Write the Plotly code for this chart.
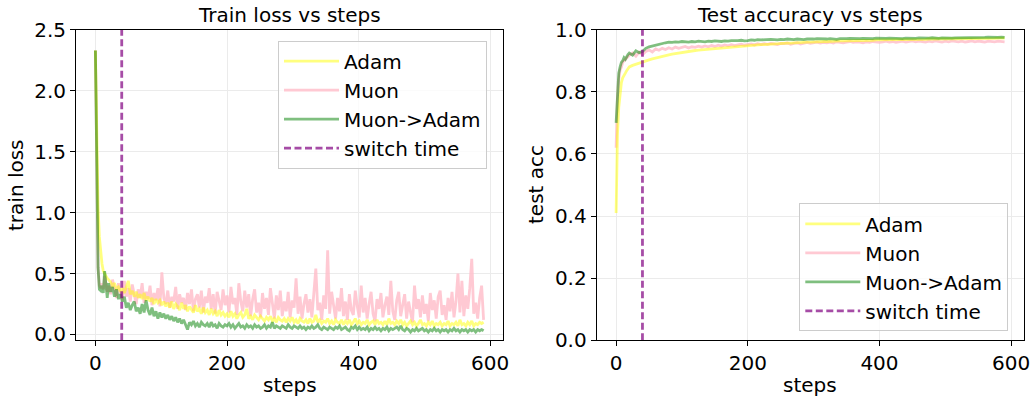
import plotly.graph_objects as go

# ---------------- data ----------------
early_steps = [0, 2, 4, 6, 8, 10, 12, 14, 16, 18]
steps_loss = early_steps + list(range(20, 591, 3))
steps_acc = early_steps + list(range(20, 595, 5))
switch_step = 40

loss_adam = [2.33, 1.50, 1.05, 0.80, 0.66, 0.58, 0.52, 0.50, 0.47, 0.46,
    0.45, 0.43, 0.40, 0.42, 0.37, 0.39, 0.35, 0.38, 0.34, 0.40,
    0.44, 0.33, 0.36, 0.31, 0.35, 0.30, 0.33, 0.29, 0.34, 0.28,
    0.31, 0.27, 0.30, 0.25, 0.29, 0.26, 0.28, 0.24, 0.27, 0.23,
    0.26, 0.22, 0.27, 0.21, 0.25, 0.23, 0.20, 0.26, 0.21, 0.24,
    0.19, 0.23, 0.20, 0.18, 0.24, 0.19, 0.21, 0.17, 0.22, 0.18,
    0.20, 0.16, 0.21, 0.17, 0.19, 0.15, 0.20, 0.16, 0.18, 0.15,
    0.17, 0.14, 0.19, 0.15, 0.17, 0.13, 0.16, 0.18, 0.14, 0.16,
    0.21, 0.13, 0.15, 0.12, 0.16, 0.14, 0.12, 0.15, 0.13, 0.11,
    0.14, 0.12, 0.15, 0.11, 0.13, 0.10, 0.14, 0.12, 0.11, 0.13,
    0.10, 0.13, 0.11, 0.14, 0.10, 0.12, 0.09, 0.13, 0.11, 0.10,
    0.12, 0.09, 0.13, 0.10, 0.11, 0.16, 0.10, 0.12, 0.09, 0.11,
    0.10, 0.13, 0.09, 0.11, 0.08, 0.12, 0.10, 0.09, 0.12, 0.08,
    0.11, 0.09, 0.12, 0.08, 0.10, 0.13, 0.09, 0.11, 0.08, 0.10,
    0.09, 0.12, 0.08, 0.10, 0.11, 0.08, 0.12, 0.09, 0.10, 0.08,
    0.11, 0.08, 0.13, 0.09, 0.10, 0.08, 0.11, 0.09, 0.12, 0.08,
    0.10, 0.07, 0.09, 0.11, 0.08, 0.10, 0.07, 0.09, 0.12, 0.08,
    0.09, 0.07, 0.10, 0.08, 0.11, 0.07, 0.09, 0.08, 0.10, 0.07,
    0.09, 0.08, 0.11, 0.07, 0.09, 0.08, 0.10, 0.07, 0.12, 0.08,
    0.09, 0.07, 0.10, 0.08, 0.11, 0.07, 0.09, 0.08, 0.10, 0.09,
    0.10]

loss_muon = [2.33, 1.25, 0.55, 0.40, 0.38, 0.42, 0.37, 0.48, 0.40, 0.35,
    0.40, 0.33, 0.45, 0.36, 0.30, 0.42, 0.35, 0.28, 0.44, 0.31,
    0.38, 0.27, 0.41, 0.33, 0.25, 0.37, 0.30, 0.42, 0.26, 0.35,
    0.29, 0.40, 0.24, 0.34, 0.28, 0.38, 0.23, 0.51, 0.30, 0.25,
    0.36, 0.22, 0.31, 0.27, 0.39, 0.21, 0.33, 0.26, 0.30, 0.20,
    0.34, 0.25, 0.37, 0.19, 0.29, 0.33, 0.22, 0.36, 0.18, 0.31,
    0.26, 0.38, 0.21, 0.33, 0.17, 0.35, 0.28, 0.20, 0.37, 0.24,
    0.32, 0.18, 0.39, 0.25, 0.30, 0.16, 0.42, 0.27, 0.19, 0.36,
    0.22, 0.33, 0.15, 0.29, 0.37, 0.18, 0.26, 0.14, 0.34, 0.21,
    0.30, 0.16, 0.38, 0.23, 0.13, 0.32, 0.20, 0.36, 0.15, 0.27,
    0.19, 0.35, 0.14, 0.28, 0.22, 0.46, 0.17, 0.31, 0.13, 0.25,
    0.33, 0.18, 0.29, 0.14, 0.37, 0.54, 0.20, 0.26, 0.12, 0.32,
    0.21, 0.69, 0.17, 0.35, 0.24, 0.13, 0.30, 0.19, 0.38, 0.15,
    0.27, 0.12, 0.33, 0.20, 0.16, 0.36, 0.23, 0.14, 0.40, 0.18,
    0.30, 0.13, 0.25, 0.35, 0.17, 0.11, 0.29, 0.21, 0.34, 0.14,
    0.24, 0.31, 0.16, 0.44, 0.19, 0.12, 0.28, 0.35, 0.15, 0.23,
    0.33, 0.13, 0.27, 0.18, 0.10, 0.40, 0.21, 0.29, 0.14, 0.32,
    0.17, 0.25, 0.11, 0.34, 0.20, 0.28, 0.13, 0.31, 0.36, 0.16,
    0.24, 0.12, 0.30, 0.19, 0.35, 0.14, 0.27, 0.50, 0.18, 0.44,
    0.15, 0.32, 0.21, 0.38, 0.62, 0.17, 0.26, 0.13, 0.30, 0.40,
    0.12]

loss_switch = [2.33, 1.20, 0.55, 0.37, 0.36, 0.40, 0.34, 0.52, 0.38, 0.30,
    0.42, 0.35, 0.39, 0.31, 0.37, 0.29, 0.33, 0.27, 0.31, 0.22,
    0.26, 0.20, 0.24, 0.27, 0.19, 0.22, 0.17, 0.25, 0.18, 0.28,
    0.20, 0.16, 0.22, 0.15, 0.19, 0.13, 0.18, 0.14, 0.17, 0.13,
    0.16, 0.12, 0.15, 0.11, 0.14, 0.10, 0.13, 0.09, 0.12, 0.08,
    0.04, 0.10, 0.08, 0.11, 0.07, 0.09, 0.06, 0.10, 0.08, 0.07,
    0.09, 0.06, 0.10, 0.07, 0.08, 0.05, 0.09, 0.07, 0.06, 0.08,
    0.07, 0.09, 0.06, 0.08, 0.05, 0.07, 0.09, 0.06, 0.07, 0.05,
    0.08, 0.06, 0.07, 0.05, 0.08, 0.06, 0.07, 0.05, 0.06, 0.08,
    0.05, 0.07, 0.06, 0.10, 0.05, 0.07, 0.06, 0.05, 0.07, 0.06,
    0.05, 0.08, 0.06, 0.05, 0.07, 0.06, 0.05, 0.07, 0.05, 0.06,
    0.04, 0.06, 0.05, 0.07, 0.05, 0.06, 0.08, 0.05, 0.04, 0.06,
    0.05, 0.04, 0.06, 0.05, 0.04, 0.06, 0.05, 0.07, 0.04, 0.05,
    0.06, 0.04, 0.03, 0.06, 0.05, 0.07, 0.04, 0.06, 0.04, 0.05,
    0.04, 0.06, 0.03, 0.05, 0.04, 0.06, 0.04, 0.05, 0.03, 0.05,
    0.04, 0.06, 0.03, 0.05, 0.04, 0.05, 0.06, 0.04, 0.07, 0.04,
    0.03, 0.05, 0.04, 0.02, 0.04, 0.03, 0.05, 0.03, 0.04, 0.05,
    0.03, 0.04, 0.02, 0.04, 0.03, 0.05, 0.03, 0.04, 0.02, 0.04,
    0.03, 0.04, 0.02, 0.04, 0.03, 0.05, 0.03, 0.04, 0.02, 0.04,
    0.03, 0.04, 0.02, 0.04, 0.03, 0.04, 0.02, 0.04, 0.03, 0.04,
    0.03]

acc_adam = [0.41, 0.66, 0.75, 0.80, 0.83, 0.845, 0.855, 0.86, 0.868, 0.874,
    0.880, 0.885, 0.889, 0.893, 0.897, 0.900, 0.903, 0.906, 0.909, 0.912,
    0.914, 0.916, 0.919, 0.921, 0.923, 0.925, 0.927, 0.928, 0.930, 0.931,
    0.933, 0.934, 0.935, 0.937, 0.938, 0.939, 0.940, 0.941, 0.942, 0.943,
    0.944, 0.945, 0.946, 0.946, 0.947, 0.948, 0.949, 0.950, 0.950, 0.951,
    0.952, 0.952, 0.953, 0.954, 0.954, 0.955, 0.956, 0.956, 0.957, 0.957,
    0.958, 0.958, 0.959, 0.959, 0.960, 0.960, 0.961, 0.961, 0.962, 0.962,
    0.962, 0.963, 0.963, 0.963, 0.964, 0.964, 0.964, 0.965, 0.965, 0.965,
    0.965, 0.966, 0.966, 0.966, 0.966, 0.967, 0.967, 0.967, 0.967, 0.967,
    0.968, 0.968, 0.968, 0.968, 0.968, 0.969, 0.969, 0.969, 0.969, 0.969,
    0.969, 0.970, 0.970, 0.970, 0.970, 0.970, 0.970, 0.971, 0.971, 0.971,
    0.971, 0.971, 0.971, 0.971, 0.972, 0.972, 0.972, 0.972, 0.972, 0.972,
    0.972, 0.972, 0.973, 0.973, 0.973]

acc_muon = [0.62, 0.78, 0.84, 0.87, 0.88, 0.895, 0.90, 0.905, 0.91, 0.915,
    0.918, 0.925, 0.915, 0.928, 0.920, 0.930, 0.935, 0.928, 0.938, 0.934,
    0.940, 0.936, 0.942, 0.938, 0.944, 0.940, 0.943, 0.946, 0.941, 0.945,
    0.943, 0.947, 0.944, 0.948, 0.945, 0.949, 0.946, 0.950, 0.947, 0.951,
    0.948, 0.952, 0.949, 0.951, 0.953, 0.950, 0.952, 0.954, 0.951, 0.955,
    0.952, 0.955, 0.953, 0.956, 0.954, 0.952, 0.956, 0.955, 0.957, 0.953,
    0.956, 0.958, 0.954, 0.957, 0.959, 0.956, 0.958, 0.960, 0.957, 0.959,
    0.958, 0.960, 0.957, 0.961, 0.959, 0.958, 0.960, 0.962, 0.959, 0.961,
    0.960, 0.958, 0.961, 0.959, 0.962, 0.960, 0.959, 0.961, 0.963, 0.960,
    0.962, 0.959, 0.961, 0.963, 0.960, 0.962, 0.964, 0.961, 0.963, 0.962,
    0.960, 0.963, 0.961, 0.964, 0.962, 0.960, 0.963, 0.961, 0.964, 0.962,
    0.961, 0.963, 0.960, 0.962, 0.964, 0.961, 0.963, 0.962, 0.960, 0.963,
    0.962, 0.961, 0.963, 0.962, 0.961]

acc_switch = [0.70, 0.80, 0.86, 0.88, 0.895, 0.90, 0.91, 0.905, 0.915, 0.92,
    0.925, 0.918, 0.932, 0.926, 0.930, 0.940, 0.945, 0.948, 0.950, 0.953,
    0.956, 0.958, 0.960, 0.959, 0.961, 0.960, 0.962, 0.961, 0.960, 0.962,
    0.961, 0.963, 0.962, 0.961, 0.963, 0.962, 0.964, 0.963, 0.962, 0.964,
    0.963, 0.965, 0.964, 0.965, 0.966, 0.964, 0.965, 0.967, 0.966, 0.968,
    0.967, 0.968, 0.967, 0.969, 0.968, 0.967, 0.969, 0.968, 0.970, 0.969,
    0.968, 0.970, 0.969, 0.968, 0.970, 0.969, 0.970, 0.971, 0.970, 0.969,
    0.970, 0.971, 0.970, 0.969, 0.971, 0.970, 0.971, 0.972, 0.971, 0.970,
    0.971, 0.972, 0.971, 0.972, 0.971, 0.973, 0.972, 0.971, 0.972, 0.973,
    0.972, 0.973, 0.972, 0.971, 0.973, 0.972, 0.973, 0.972, 0.974, 0.973,
    0.972, 0.973, 0.974, 0.973, 0.972, 0.974, 0.973, 0.974, 0.973, 0.974,
    0.974, 0.973, 0.974, 0.975, 0.974, 0.973, 0.975, 0.974, 0.975, 0.976,
    0.975, 0.976, 0.975, 0.976, 0.975]

loss_range = [-0.048, 2.5]
acc_range = [0.0, 1.0]

# ---------------- styling ----------------
FONT = "DejaVu Sans"
FS = 20
C_ADAM = "rgba(255,255,0,0.5)"
C_MUON = "rgba(255,192,203,0.85)"
C_SW = "rgba(0,128,0,0.5)"
C_LINE = "rgba(128,0,128,0.7)"
LW = 2.8

fig = go.Figure()

def add_panel(xa, ya, legend, xs, adam, muon, sw, yr):
    # draw Muon first, Adam on top, then Muon->Adam; legend order by legendrank
    fig.add_trace(go.Scatter(x=xs, y=muon, mode="lines", name="Muon",
                             line=dict(color=C_MUON, width=LW), xaxis=xa, yaxis=ya,
                             legend=legend, legendrank=2))
    fig.add_trace(go.Scatter(x=xs, y=adam, mode="lines", name="Adam",
                             line=dict(color=C_ADAM, width=LW), xaxis=xa, yaxis=ya,
                             legend=legend, legendrank=1))
    fig.add_trace(go.Scatter(x=xs, y=sw, mode="lines", name="Muon->Adam",
                             line=dict(color=C_SW, width=LW), xaxis=xa, yaxis=ya,
                             legend=legend, legendrank=3))
    fig.add_trace(go.Scatter(x=[switch_step, switch_step], y=yr, mode="lines",
                             name="switch time",
                             line=dict(color=C_LINE, width=LW, dash="7px,3.5px"),
                             xaxis=xa, yaxis=ya, legend=legend, legendrank=4))

add_panel("x", "y", "legend", steps_loss, loss_adam, loss_muon, loss_switch, loss_range)
add_panel("x2", "y2", "legend2", steps_acc, acc_adam, acc_muon, acc_switch, acc_range)

ydom = [1 - 340.3 / 399, 1 - 29.7 / 399]
common_axis = dict(showline=True, linecolor="black", linewidth=1, mirror=True,
                   ticks="outside", ticklen=5, tickwidth=1, tickcolor="black",
                   showgrid=True, gridcolor="#ebebeb", gridwidth=1, zeroline=False,
                   automargin=False,
                   tickfont=dict(family=FONT, size=FS, color="black"))

legend_style = dict(xanchor="left", yanchor="top", itemwidth=55,
                    bgcolor="rgba(255,255,255,0.8)", bordercolor="#cccccc", borderwidth=1,
                    font=dict(family=FONT, size=FS, color="black"))

fig.update_layout(
    width=1034, height=399,
    margin=dict(l=0, r=0, t=0, b=0, pad=0, autoexpand=False),
    paper_bgcolor="white", plot_bgcolor="white",
    font=dict(family=FONT, size=FS, color="black"),
    xaxis=dict(domain=[76 / 1034, 503 / 1034], range=[-29.5, 619.5],
               tickvals=[0, 200, 400, 600], anchor="y", **common_axis),
    yaxis=dict(domain=ydom, range=loss_range, tickvals=[0, 0.5, 1.0, 1.5, 2.0, 2.5],
               tickformat=".1f", anchor="x", **common_axis),
    xaxis2=dict(domain=[596.7 / 1034, 1024 / 1034], range=[-29.5, 619.5],
                tickvals=[0, 200, 400, 600], anchor="y2", **common_axis),
    yaxis2=dict(domain=ydom, range=acc_range, tickvals=[0, 0.2, 0.4, 0.6, 0.8, 1.0],
                tickformat=".1f", anchor="x2", **common_axis),
    legend=dict(x=278 / 1034, y=1 - 40.7 / 399, **legend_style),
    legend2=dict(x=799.3 / 1034, y=1 - 203.3 / 399, **legend_style),
)

ann = [
    ("Train loss vs steps", 289.5, 15, 0),
    ("Test accuracy vs steps", 810.3, 15, 0),
    ("steps", 289.5, 385, 0),
    ("steps", 810.3, 385, 0),
    ("train loss", 16, 185, -90),
    ("test acc", 536, 185, -90),
]
for text, px, py, rot in ann:
    fig.add_annotation(text=text, x=px / 1034, y=1 - py / 399, xref="paper", yref="paper",
                       xanchor="center", yanchor="middle", showarrow=False, textangle=rot,
                       font=dict(family=FONT, size=FS, color="black"))

fig.write_html("out.html")
